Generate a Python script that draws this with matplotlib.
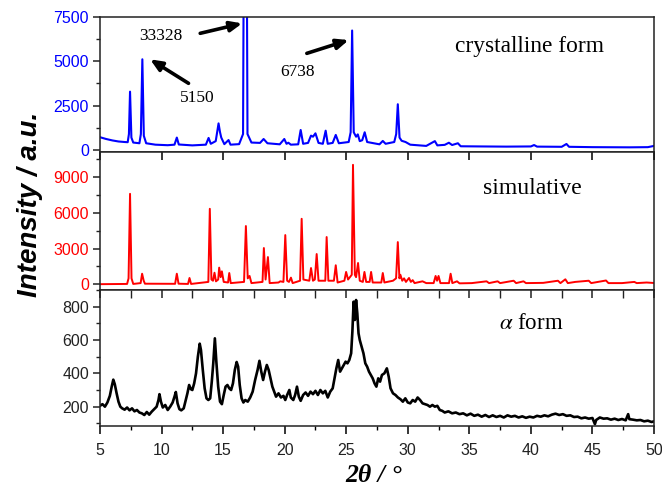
import matplotlib
matplotlib.use("Agg")
import matplotlib.pyplot as plt
from matplotlib.ticker import MultipleLocator

plt.rcParams["mathtext.fontset"] = "stix"

# ---------------- data ----------------
cryst_x = [5.0, 5.5, 6.0, 6.5, 7.0, 7.25, 7.35, 7.44, 7.55, 7.7, 8.2, 8.32, 8.44, 8.56, 8.75,
           9.5, 10.5, 11.05, 11.24, 11.4, 12.5, 13.6, 13.82, 14.0, 14.4, 14.63, 14.75, 14.85,
           15.1, 15.44, 15.6, 16.3, 16.62, 16.8, 16.98, 17.3, 18.0, 18.29, 18.6, 19.6, 19.97,
           20.15, 20.3, 20.5, 21.1, 21.3, 21.5, 21.9, 22.14, 22.3, 22.5, 22.75, 23.1, 23.33,
           23.5, 23.9, 24.15, 24.4, 25.2, 25.36, 25.48, 25.61, 25.8, 25.94, 26.1, 26.3, 26.5,
           26.7, 27.7, 27.97, 28.2, 28.9, 29.06, 29.19, 29.33, 29.5, 29.82, 30.2, 31.5, 32.2,
           32.4, 33.0, 33.34, 33.6, 34.07, 34.3, 36.0, 38.0, 40.0, 40.26, 40.5, 42.5, 42.89,
           43.1, 45.0, 48.0, 49.5, 50.0]
cryst_y = [720, 620, 540, 480, 450, 440, 900, 3290, 700, 420, 380, 900, 5115, 800, 380,
           300, 270, 300, 700, 310, 260, 300, 680, 350, 500, 1500, 1000, 700,
           330, 560, 300, 330, 900, 33328, 900, 420, 400, 620, 380, 320, 620,
           350, 410, 300, 320, 1130, 350, 400, 810, 750, 940, 400, 350, 1090,
           350, 400, 850, 380, 450, 1000, 6738, 1000, 750, 880, 500, 550, 1000,
           450, 320, 510, 350, 450, 900, 2580, 700, 520, 450, 300, 230, 500,
           260, 290, 410, 280, 380, 210, 200, 190, 200, 280, 190, 180, 340,
           180, 160, 150, 160, 230]

sim_x = [5.0, 7.2, 7.32, 7.44, 7.56, 7.7, 8.3, 8.42, 8.55, 8.65, 11.1, 11.24, 11.38, 12.15,
         12.27, 12.4, 13.8, 13.92, 14.05, 14.18, 14.3, 14.42, 14.6, 14.68, 14.8, 14.9, 15.05,
         15.4, 15.5, 15.62, 16.7, 16.85, 17.0, 17.15, 17.3, 18.2, 18.31, 18.45, 18.64, 18.78,
         19.5, 19.64, 19.9, 20.05, 20.2, 20.35, 20.51, 20.65, 21.25, 21.38, 21.52, 22.0,
         22.14, 22.3, 22.45, 22.6, 22.75, 23.3, 23.41, 23.55, 24.0, 24.15, 24.3, 24.85, 24.99,
         25.15, 25.45, 25.55, 25.7, 25.8, 25.96, 26.1, 26.35, 26.48, 26.62, 26.9, 27.02,
         27.15, 27.85, 27.97, 28.1, 28.8, 29.05, 29.19, 29.32, 29.4, 29.55, 29.7, 29.85,
         30.1, 30.25, 30.4, 30.55, 31.2, 31.5, 32.1, 32.26, 32.38, 32.5, 32.65, 33.35, 33.48,
         33.62, 34.0, 34.2, 35.2, 36.4, 36.6, 37.3, 37.5, 38.6, 38.8, 39.4, 39.6, 41.0, 42.2,
         42.4, 42.8, 43.0, 43.6, 44.7, 44.9, 46.1, 46.3, 47.4, 48.4, 48.6, 49.4, 50.0]
sim_y = [10, 30, 500, 7610, 500, 30, 100, 890, 300, 50, 40, 890, 50, 30,
         530, 30, 200, 6350, 400, 300, 975, 250, 400, 1400, 600, 1090, 200,
         150, 950, 100, 200, 4900, 500, 700, 100, 200, 3050, 400, 2290, 100,
         150, 250, 200, 4140, 300, 200, 560, 100, 300, 5510, 400, 300,
         1370, 300, 400, 2545, 300, 300, 3975, 300, 300, 1600, 150, 300, 1040,
         400, 800, 10050, 800, 600, 1790, 300, 200, 1040, 200, 200, 1040,
         150, 150, 950, 150, 300, 500, 3550, 500, 800, 300, 500, 200,
         530, 200, 350, 100, 250, 100, 100, 700, 300, 700, 100, 100, 890,
         100, 250, 80, 100, 250, 100, 250, 100, 300, 100, 250, 100, 120, 300,
         100, 420, 100, 200, 300, 100, 320, 100, 100, 200, 100, 150, 110]

alpha_x = [5.0, 5.2, 5.4, 5.6, 5.8, 5.95, 6.08, 6.2, 6.35, 6.5, 6.65, 6.8, 7.0, 7.2, 7.4, 7.6,
           7.8, 8.0, 8.2, 8.4, 8.6, 8.8, 9.0, 9.2, 9.4, 9.6, 9.75, 9.83, 9.95, 10.1, 10.3, 10.5,
           10.7, 10.9, 11.05, 11.16, 11.3, 11.45, 11.6, 11.8, 11.95, 12.1, 12.24, 12.38, 12.5,
           12.65, 12.8, 12.95, 13.1, 13.2, 13.35, 13.5, 13.65, 13.8, 13.95, 14.08, 14.2, 14.33,
           14.45, 14.6, 14.75, 14.9, 15.05, 15.2, 15.35, 15.5, 15.65, 15.8, 15.95, 16.1, 16.22,
           16.35, 16.5, 16.65, 16.8, 17.0, 17.2, 17.4, 17.6, 17.8, 17.95, 18.1, 18.25, 18.4,
           18.55, 18.7, 18.85, 19.0, 19.15, 19.3, 19.5, 19.7, 19.9, 20.05, 20.2, 20.38, 20.5,
           20.7, 20.85, 21.0, 21.15, 21.3, 21.5, 21.7, 21.9, 22.1, 22.3, 22.5, 22.7, 22.9, 23.1,
           23.3, 23.5, 23.7, 23.9, 24.05, 24.2, 24.35, 24.5, 24.65, 24.8, 24.95, 25.1, 25.25,
           25.4, 25.5, 25.6, 25.7, 25.8, 25.9, 26.0, 26.1, 26.25, 26.4, 26.55, 26.7, 26.85,
           27.0, 27.15, 27.3, 27.45, 27.6, 27.75, 27.9, 28.1, 28.3, 28.45, 28.6, 28.8, 29.0,
           29.2, 29.4, 29.6, 29.8, 30.0, 30.2, 30.4, 30.6, 30.8, 31.0, 31.2, 31.4, 31.6, 31.8,
           32.0, 32.2, 32.4, 32.6, 32.8, 33.0, 33.3, 33.6, 33.9, 34.2, 34.5, 34.8, 35.1, 35.4,
           35.7, 36.0, 36.3, 36.6, 36.9, 37.2, 37.5, 37.8, 38.1, 38.4, 38.7, 39.0, 39.3, 39.6,
           39.9, 40.2, 40.5, 40.8, 41.1, 41.4, 41.7, 42.0, 42.3, 42.6, 42.9, 43.2, 43.5, 43.8,
           44.1, 44.4, 44.7, 45.0, 45.2, 45.3, 45.6, 45.9, 46.2, 46.5, 46.8, 47.1, 47.4, 47.7,
           47.9, 48.0, 48.3, 48.6, 48.9, 49.2, 49.5, 49.8, 50.0]
alpha_y = [205, 215, 200, 225, 265, 320, 362, 335, 280, 230, 200, 190, 182, 195, 178, 190,
           172, 180, 165, 160, 150, 168, 152, 170, 185, 200, 240, 275, 230, 195, 210, 180,
           200, 225, 260, 288, 220, 185, 178, 190, 235, 280, 330, 305, 300,
           340, 400, 500, 578, 540, 420, 310, 250, 240, 250, 350, 460, 610,
           470, 320, 230, 215, 270, 320, 330, 310, 300, 340, 420, 468, 440,
           330, 250, 225, 240, 230, 255, 290, 360, 420, 475, 410, 360, 410,
           450, 420, 370, 320, 290, 260, 280, 255, 265, 240, 270, 300, 255,
           240, 270, 320, 260, 235, 270, 285, 265, 290, 275, 295, 270, 300, 280,
           295, 255, 290, 310, 370, 430, 480, 410, 430, 450, 470, 460, 480,
           520, 650, 830, 720, 840, 760, 640, 600, 560, 520, 460, 440, 410,
           390, 370, 340, 320, 370, 350, 390, 400, 430, 380, 310, 280, 270,
           255, 245, 230, 250, 225, 220, 240, 230, 255, 240, 220, 215, 210, 200,
           210, 200, 205, 180, 175, 165, 172, 160, 165, 155, 160, 148, 158, 145,
           152, 140, 150, 138, 148, 138, 145, 135, 148, 140, 145, 135, 142, 133,
           140, 135, 145, 140, 148, 142, 152, 158, 150, 155, 145, 148, 138, 140,
           130, 135, 128, 132, 95, 120, 135, 128, 130, 122, 128, 120, 126, 118,
           155, 125, 122, 118, 120, 112, 116, 108, 112]

x_ticks = [5, 10, 15, 20, 25, 30, 35, 40, 45, 50]
cryst_ticks = [0, 2500, 5000, 7500]
sim_ticks = [0, 3000, 6000, 9000]
alpha_ticks = [200, 400, 600, 800]

# annotations: (label, text position, arrow tail, arrow head)
notes = [("33328", (9.96, 6450), (13.14, 6580), (16.55, 7140)),
         ("5150", (12.92, 2915), (12.19, 3760), (9.07, 5115)),
         ("6738", (21.05, 4420), (21.8, 5450), (25.2, 6200))]

# ---------------- figure ----------------
W, H = 662, 490
fig = plt.figure(figsize=(W / 100, H / 100), dpi=100)

def frac(px_left, px_top, px_right, px_bottom):
    return [px_left / W, 1 - px_bottom / H, (px_right - px_left) / W, (px_bottom - px_top) / H]

ax1 = fig.add_axes(frac(100, 17, 654, 151.5))
ax2 = fig.add_axes(frac(100, 151.5, 654, 290))
ax3 = fig.add_axes(frac(100, 290, 654, 426))

sans = ["Liberation Sans", "DejaVu Sans"]
serif = ["Liberation Serif", "DejaVu Serif"]
tick_fs = 11.5

ax1.plot(cryst_x, cryst_y, color="#0000ff", lw=1.5)
ax2.plot(sim_x, sim_y, color="#ff0000", lw=1.4)
ax3.plot(alpha_x, alpha_y, color="black", lw=1.9)

ax1.set_ylim(-85, 7500)
ax2.set_ylim(-480, 11170)
ax3.set_ylim(84, 900)

for ax, ticks, col in ((ax1, cryst_ticks, "#0000ff"), (ax2, sim_ticks, "#ff0000"), (ax3, alpha_ticks, "#222222")):
    ax.set_xlim(5, 50)
    ax.set_yticks(ticks)
    ax.set_yticklabels([str(t) for t in ticks], color=col, fontsize=tick_fs, family=sans)
    for s in ax.spines.values():
        s.set_linewidth(1.1)
        s.set_color("#222222")
    ax.set_xticks(x_ticks)
    ax.xaxis.set_minor_locator(MultipleLocator(2.5))
    ax.tick_params(axis="y", which="major", direction="out", length=5, width=1.1, color="#222222", pad=3)
    ax.tick_params(axis="y", which="minor", direction="out", length=3, width=1.0, color="#222222")

ax1.yaxis.set_minor_locator(MultipleLocator(1250))
ax2.yaxis.set_minor_locator(MultipleLocator(1500))
ax3.yaxis.set_minor_locator(MultipleLocator(100))

ax1.tick_params(axis="x", which="major", direction="out", length=6, width=1.1, bottom=True, top=False,
                labelbottom=False)
ax1.tick_params(axis="x", which="minor", bottom=False, top=False)
ax2.tick_params(axis="x", which="major", direction="in", length=6, width=1.1, bottom=False, top=True,
                labelbottom=False)
ax2.tick_params(axis="x", which="minor", bottom=False, top=False)
ax3.tick_params(axis="x", which="major", direction="out", length=6, width=1.1, bottom=True, top=False,
                labelbottom=True, pad=6)
ax3.tick_params(axis="x", which="minor", direction="out", length=3, width=1.0, bottom=True, top=False)
ax3.set_xticklabels([str(t) for t in x_ticks], fontsize=tick_fs, family=sans, color="#222222")
sec = ax3.secondary_xaxis("top")
sec.set_xticks(x_ticks)
sec.xaxis.set_minor_locator(MultipleLocator(2.5))
sec.tick_params(axis="x", which="major", direction="in", length=6, width=1.1, labeltop=False, color="#222222")
sec.tick_params(axis="x", which="minor", direction="in", length=6, width=1.0, color="#222222")
sec.spines["top"].set_visible(False)

for label, tpos, tail, head in notes:
    ax1.text(tpos[0], tpos[1], label, ha="center", va="center", fontsize=12.5, family=serif)
    ax1.annotate("", xy=head, xytext=tail,
                 arrowprops=dict(arrowstyle="-|>,head_length=0.7,head_width=0.3", lw=2.6, color="black",
                                 shrinkA=0, shrinkB=0))

ax1.text(39.85, 5850, "crystalline form", ha="center", va="center", fontsize=16.8, family=serif)
ax2.text(40.1, 8030, "simulative", ha="center", va="center", fontsize=17, family=serif)
ax3.text(40.0, 700, r"$\alpha$ form", ha="center", va="center", fontsize=16.5, family=serif)

fig.text(30 / W, 1 - 204 / H, "Intensity / a.u.", rotation=90, ha="center", va="center",
         fontsize=20, fontweight="bold", fontstyle="italic", family=sans)
fig.text(374 / W, 1 - 475 / H, "2θ / °", ha="center", va="center",
         fontsize=18.5, fontweight="bold", fontstyle="italic", family=serif)

fig.savefig("out.png", dpi=100)
